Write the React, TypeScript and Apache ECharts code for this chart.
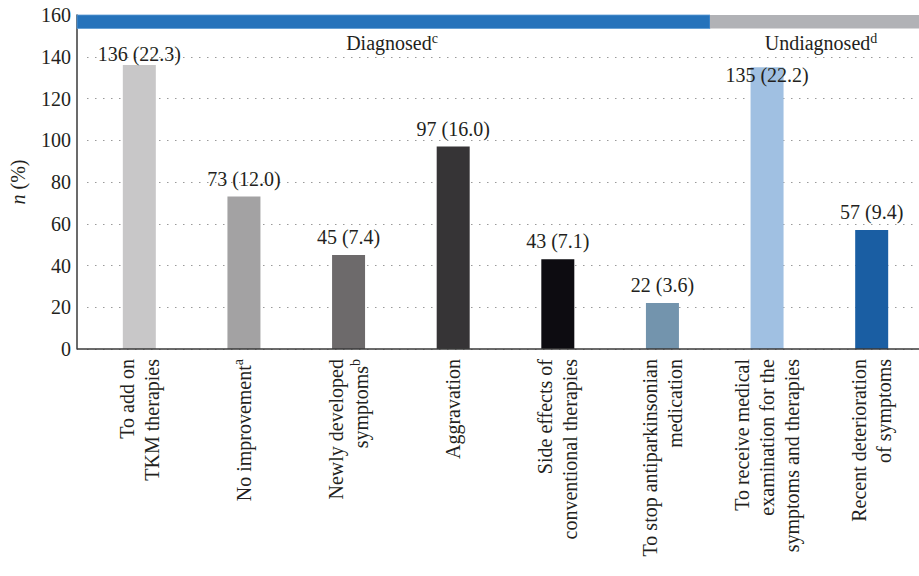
import React, { useEffect, useRef } from "react";
import * as echarts from "echarts";

const categories = [
  "To add on\nTKM therapies",
  "No improvement",
  "Newly developed\nsymptoms",
  "Aggravation",
  "Side effects of\nconventional therapies",
  "To stop antiparkinsonian\nmedication",
  "To receive medical\nexamination for the\nsymptoms and therapies",
  "Recent deterioration\nof symptoms",
];
const superscripts = ["", "a", "b", "", "", "", "", ""];
const counts = [136, 73, 45, 97, 43, 22, 135, 57];
const percents = ["22.3", "12.0", "7.4", "16.0", "7.1", "3.6", "22.2", "9.4"];
const barColors = [
  "#c8c7c8",
  "#a3a2a3",
  "#6d6a6b",
  "#363436",
  "#0d0c11",
  "#7394ad",
  "#a0c0e2",
  "#1a5ea3",
];
const yTicks = { min: 0, max: 160, interval: 20 };
const groupLabels = [
  { name: "Diagnosed", sup: "c" },
  { name: "Undiagnosed", sup: "d" },
];

const FONT = "Liberation Serif";
const TEXT = "#231f20";

export default function App() {
  const ref = useRef<HTMLDivElement>(null);
  useEffect(() => {
    if (!ref.current) return;
    const chart = echarts.init(ref.current, null, { renderer: "svg" });
    const data = counts.map((v, i) => {
      const item: any = { value: v, itemStyle: { color: barColors[i] } };
      if (i === 0) item.label = { distance: 1 };
      if (i === 6) item.label = { offset: [0, 26] };
      return item;
    });
    const supRich = {
      a: { fontSize: 20, fill: TEXT, fontFamily: FONT, lineHeight: 24 },
      s: { fontSize: 14, fill: TEXT, fontFamily: FONT, verticalAlign: "top", lineHeight: 24 },
    };
    chart.setOption({
      animation: false,
      textStyle: { fontFamily: FONT },
      grid: {
        left: 87,
        width: 837,
        top: 15,
        bottom: 227,
        containLabel: false,
        outerBoundsMode: "none",
      },
      xAxis: {
        type: "category",
        data: categories,
        axisLine: { show: false },
        axisTick: { show: false },
        axisLabel: {
          interval: 0,
          rotate: 90,
          margin: 10,
          fontSize: 20,
          lineHeight: 25,
          color: TEXT,
          fontFamily: FONT,
          formatter: (val: string, idx: number) =>
            superscripts[idx] ? `${val}{s|${superscripts[idx]}}` : val,
          rich: {
            s: {
              fontSize: 14,
              fontFamily: FONT,
              color: TEXT,
              verticalAlign: "top",
              lineHeight: 25,
            },
          },
        },
      },
      yAxis: {
        type: "value",
        min: yTicks.min,
        max: yTicks.max,
        interval: yTicks.interval,
        offset: 10,
        name: "{i|n} (%)",
        nameLocation: "middle",
        nameGap: 49,
        nameRotate: 90,
        nameTextStyle: {
          fontSize: 20,
          color: TEXT,
          fontFamily: FONT,
          rich: {
            i: { fontStyle: "italic", fontSize: 20, color: TEXT, fontFamily: FONT },
          },
        },
        axisLine: { show: true, lineStyle: { color: "#3a3a3a", width: 1.5 } },
        axisTick: { show: false },
        axisLabel: { fontSize: 20, color: TEXT, margin: 6, fontFamily: FONT },
        splitLine: {
          show: true,
          lineStyle: { color: "#9a9a9a", width: 1.2, type: [1.5, 6.5] },
        },
      },
      series: [
        {
          type: "bar",
          data,
          barWidth: 33,
          label: {
            show: true,
            position: "top",
            distance: 8,
            fontSize: 20,
            color: TEXT,
            fontFamily: FONT,
            formatter: (p: any) => `${counts[p.dataIndex]} (${percents[p.dataIndex]})`,
          },
        },
      ],
      graphic: [
        {
          type: "line",
          z: 5,
          shape: { x1: 77, y1: 349, x2: 919, y2: 349 },
          style: { stroke: "#3a3a3a", lineWidth: 1.5 },
        },
        {
          type: "rect",
          z: 10,
          shape: { x: 77, y: 15, width: 633, height: 13.5 },
          style: { fill: "#2673bb", stroke: "#5d9ad3", lineWidth: 0.8 },
        },
        {
          type: "rect",
          z: 10,
          shape: { x: 710, y: 15, width: 209, height: 13.5 },
          style: { fill: "#b1b2b6" },
        },
        {
          type: "text",
          z: 10,
          x: 392,
          y: 43,
          style: {
            text: `{a|${groupLabels[0].name}}{s|${groupLabels[0].sup}}`,
            align: "center",
            verticalAlign: "middle",
            rich: supRich,
          },
        },
        {
          type: "text",
          z: 10,
          x: 821,
          y: 43,
          style: {
            text: `{a|${groupLabels[1].name}}{s|${groupLabels[1].sup}}`,
            align: "center",
            verticalAlign: "middle",
            rich: supRich,
          },
        },
      ],
    });
    return () => chart.dispose();
  }, []);
  return (
    <div
      ref={ref}
      style={{ position: "fixed", left: 0, top: 0, width: 919, height: 576, background: "#fff" }}
    />
  );
}
